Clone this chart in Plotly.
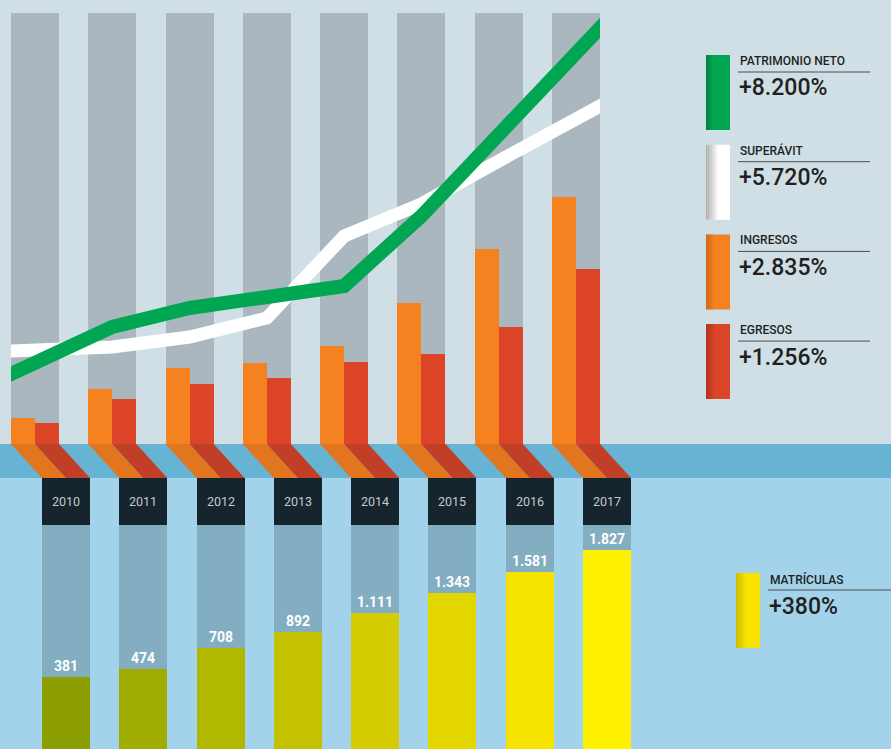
import plotly.graph_objects as go

# ---------------- data ----------------
YEARS = ["2010", "2011", "2012", "2013", "2014", "2015", "2016", "2017"]
INGRESOS = [26, 55, 76, 81, 98, 141, 195, 247]
EGRESOS = [21, 45, 60, 66, 82, 90, 117, 175]
LINE_POS = [-0.31, 1, 2, 3, 4, 5, 6, 7.31]
PATRIMONIO = [70, 117, 136, 147, 158, 228, 309, 416]
SUPERAVIT = [93, 97, 107, 126, 208, 240, 283, 338]
MATRICULAS = [381, 474, 708, 892, 1111, 1343, 1581, 1827]

LEGEND_LABELS = ["PATRIMONIO NETO", "SUPERÁVIT", "INGRESOS", "EGRESOS"]
LEGEND_VALUES = ["+8.200%", "+5.720%", "+2.835%", "+1.256%"]
MAT_LABEL = "MATRÍCULAS"
MAT_VALUE = "+380%"

# ---------------- styles / geometry ----------------
W, H = 891, 749
PITCH = 77.29          # px between categories
C0 = 35                # px centre of first top column
SHIFT_PX = 31          # px offset of the lower row
BW = 48 / PITCH        # column width in category units
SHIFT = SHIFT_PX / PITCH
COLUMN_TOP = 431
LOW_MIN, TRACK_TOP, LOW_MAX = -438, 2113, 2649

C_BG_TOP = "#d0dfe6"
C_COL = "#aab7bf"
C_BAND = "#67b3d3"
C_BG_LOW = "#a2d3ea"
C_ORANGE = "#f58220"
C_RED = "#dc4527"
C_ORANGE_D = "#e1761e"
C_RED_D = "#c13f26"
C_GREEN = "#00a651"
C_WHITE = "#ffffff"
C_TRACK = "#83adc1"
C_BOX = "#16242d"
YELLOWS = ["#8c9e00", "#9fad00", "#b2b800", "#c3c100", "#d4cb00", "#e4d700", "#f7e300", "#fff200"]
TXT = "#231f20"
FONT = "Roboto"


def px(x):
    return x / W


def py(y):
    return 1 - y / H


IDX = list(range(len(YEARS)))
fig = go.Figure()

# top columns + bars
fig.add_trace(go.Bar(x=IDX, y=[COLUMN_TOP] * 8, width=BW, marker=dict(color=C_COL, line_width=0),
                     xaxis="x", yaxis="y", hoverinfo="skip"))
fig.add_trace(go.Bar(x=IDX, y=INGRESOS, width=BW / 2, offset=-BW / 2,
                     marker=dict(color=C_ORANGE, line_width=0), xaxis="x", yaxis="y", name="Ingresos"))
fig.add_trace(go.Bar(x=IDX, y=EGRESOS, width=BW / 2, offset=0,
                     marker=dict(color=C_RED, line_width=0), xaxis="x", yaxis="y", name="Egresos"))


def extend(xs, ys, d=0.3):
    xs, ys = list(xs), list(ys)
    s0 = (ys[1] - ys[0]) / (xs[1] - xs[0])
    s1 = (ys[-1] - ys[-2]) / (xs[-1] - xs[-2])
    return ([xs[0] - d] + xs + [xs[-1] + d],
            [ys[0] - d * s0] + ys + [ys[-1] + d * s1])


for vals, col, w, nm in [(SUPERAVIT, C_WHITE, 13, "Superávit"), (PATRIMONIO, C_GREEN, 14, "Patrimonio neto")]:
    ex, ey = extend(LINE_POS, vals)
    fig.add_trace(go.Scatter(x=ex, y=ey, mode="lines", line=dict(color=col, width=w),
                             xaxis="x2", yaxis="y", name=nm, hoverinfo="skip"))

# lower row
fig.add_trace(go.Bar(x=IDX, y=[TRACK_TOP - LOW_MIN] * 8, base=LOW_MIN, width=BW,
                     marker=dict(color=C_TRACK, line_width=0), xaxis="x3", yaxis="y3", hoverinfo="skip"))
fig.add_trace(go.Bar(x=IDX, y=[v - LOW_MIN for v in MATRICULAS], base=LOW_MIN, width=BW,
                     marker=dict(color=YELLOWS, line_width=0), xaxis="x3", yaxis="y3",
                     text=[f"{v:,}".replace(",", ".") for v in MATRICULAS], textposition="outside",
                     textfont=dict(color="white", size=14, family=FONT, weight="bold"),
                     cliponaxis=False, name="Matrículas"))
fig.add_trace(go.Bar(x=IDX, y=[LOW_MAX - TRACK_TOP] * 8, base=TRACK_TOP, width=BW,
                     marker=dict(color=C_BOX, line_width=0), xaxis="x3", yaxis="y3",
                     text=YEARS, textposition="inside", insidetextanchor="middle",
                     textfont=dict(color="#c4c9cd", size=12.5, family=FONT), hoverinfo="skip"))

shapes = [
    dict(type="rect", xref="paper", yref="paper", x0=0, x1=1, y0=py(444), y1=1,
         fillcolor=C_BG_TOP, line_width=0, layer="below"),
    dict(type="rect", xref="paper", yref="paper", x0=0, x1=1, y0=py(478), y1=py(444),
         fillcolor=C_BAND, line_width=0, layer="below"),
    dict(type="rect", xref="paper", yref="paper", x0=0, x1=1, y0=0, y1=py(478),
         fillcolor=C_BG_LOW, line_width=0, layer="below"),
]
yt, yb = py(444), py(478)
for i in IDX:
    for a, b, col in [(i - BW / 2, i, C_ORANGE_D), (i, i + BW / 2, C_RED_D)]:
        path = f"M {a},{yt} L {b},{yt} L {b + SHIFT},{yb} L {a + SHIFT},{yb} Z"
        shapes.append(dict(type="path", xref="x", yref="paper", path=path,
                           fillcolor=col, line_width=0, layer="below"))

annotations = []


def legend_block(x0, top, color, dark, label, value, rule_end, strip=5):
    shapes.append(dict(type="rect", xref="paper", yref="paper", x0=px(x0), x1=px(x0 + 24),
                       y0=py(top + 75), y1=py(top), fillcolor=color, line_width=0))
    for k in range(strip):
        shapes.append(dict(type="rect", xref="paper", yref="paper", x0=px(x0 + k * 1.6),
                           x1=px(x0 + (k + 1) * 1.6), y0=py(top + 75), y1=py(top),
                           fillcolor=dark, opacity=(1 - k / strip) * 0.8, line_width=0))
    tx = x0 + 32
    annotations.append(dict(x=px(tx), y=py(top + 6), xref="paper", yref="paper", text=label,
                            showarrow=False, xanchor="left", yanchor="middle",
                            font=dict(family=FONT, size=12, color=TXT, weight=500)))
    shapes.append(dict(type="line", xref="paper", yref="paper", x0=px(tx), x1=px(rule_end),
                       y0=py(top + 17), y1=py(top + 17), line=dict(color="#4d4d4f", width=1)))
    annotations.append(dict(x=px(tx - 1), y=py(top + 33), xref="paper", yref="paper", text=value,
                            showarrow=False, xanchor="left", yanchor="middle",
                            font=dict(family=FONT, size=23, color=TXT, weight=500)))


leg_colors = [(C_GREEN, "#007a3a", 4), ("#ffffff", "#9a9a9a", 7), (C_ORANGE, "#c8621a", 5), (C_RED, "#a9301c", 5)]
for k, (lab, val) in enumerate(zip(LEGEND_LABELS, LEGEND_VALUES)):
    col, dk, st = leg_colors[k]
    legend_block(706, 55 + k * 89.7, col, dk, lab, val, 870, st)
legend_block(736, 573, "#f8e300", "#c4b400", MAT_LABEL, MAT_VALUE, 891, 6)

X0 = -C0 / PITCH
X1 = (W - C0) / PITCH
fig.update_layout(
    width=W, height=H, margin=dict(l=0, r=0, t=0, b=0),
    paper_bgcolor=C_BG_LOW, plot_bgcolor="rgba(0,0,0,0)",
    barmode="overlay", bargap=0, showlegend=False,
    shapes=shapes, annotations=annotations,
    xaxis=dict(domain=[0, 1], range=[X0, X1], visible=False, fixedrange=True),
    yaxis=dict(domain=[py(444), 1], range=[0, 444], visible=False, fixedrange=True),
    xaxis2=dict(domain=[px(11), px(600)], range=[(11 - C0) / PITCH, (600 - C0) / PITCH],
                anchor="y", visible=False, fixedrange=True),
    xaxis3=dict(domain=[0, 1], range=[X0 - SHIFT, X1 - SHIFT], anchor="y3", visible=False, fixedrange=True),
    yaxis3=dict(domain=[0, py(478)], range=[LOW_MIN, LOW_MAX], anchor="x3", visible=False, fixedrange=True),
    font=dict(family=FONT),
)

fig.write_html("out.html")
